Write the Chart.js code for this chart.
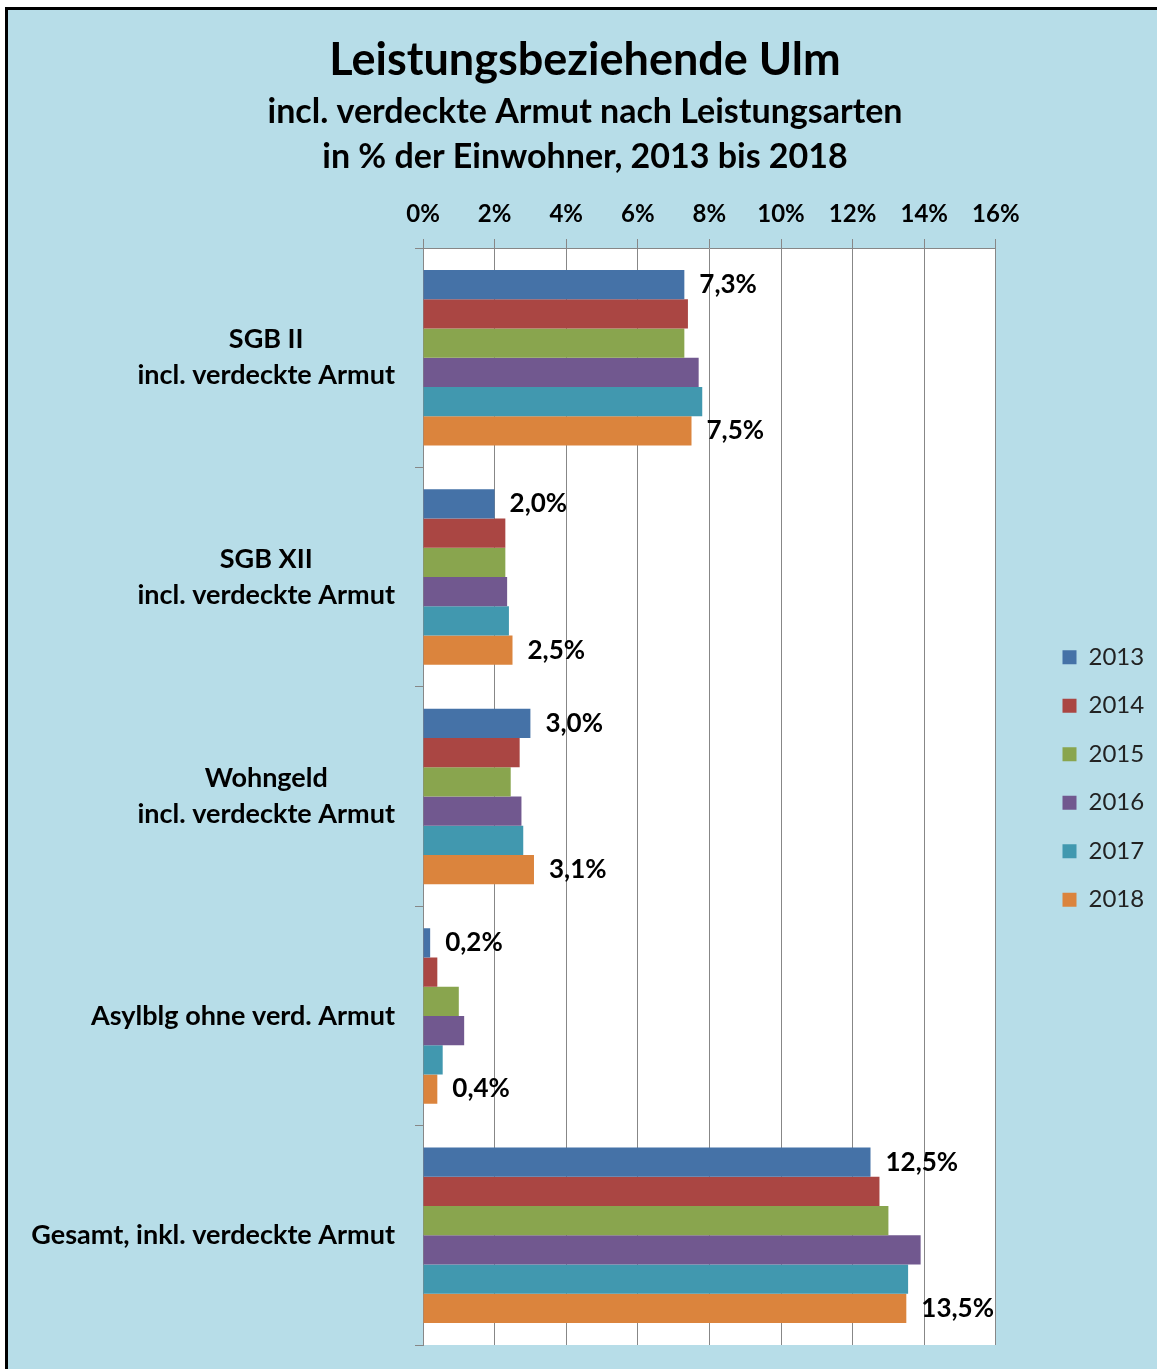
<!DOCTYPE html>
<html>
<head>
<meta charset="utf-8">
<title>Leistungsbeziehende Ulm</title>
<script src="https://cdn.jsdelivr.net/npm/chart.js@4.4.1/dist/chart.umd.min.js"></script>
<style>
  html, body { margin: 0; padding: 0; background: #fff; }
  canvas { display: block; }
</style>
</head>
<body>
<canvas id="leistungChart" width="1157" height="1369"></canvas>
<script>
// categories (multi-line labels)
const categories = [
    ['SGB II', 'incl. verdeckte Armut'],
    ['SGB XII', 'incl. verdeckte Armut'],
    ['Wohngeld', 'incl. verdeckte Armut'],
    ['Asylblg ohne verd. Armut'],
    ['Gesamt, inkl. verdeckte Armut']
];
const years = ['2013', '2014', '2015', '2016', '2017', '2018'];

// % der Einwohner
const values2013 = [7.3, 2.0, 3.0, 0.2, 12.5];
const values2014 = [7.4, 2.3, 2.7, 0.4, 12.75];
const values2015 = [7.3, 2.3, 2.45, 1.0, 13.0];
const values2016 = [7.7, 2.35, 2.75, 1.15, 13.9];
const values2017 = [7.8, 2.4, 2.8, 0.55, 13.55];
const values2018 = [7.5, 2.5, 3.1, 0.4, 13.5];

const tickLabels = ['0%', '2%', '4%', '6%', '8%', '10%', '12%', '14%', '16%'];

const barColors = ['#4572a7', '#aa4643', '#89a54e', '#71588f', '#4198af', '#db843d'];
const labelledSeries = [0, 5];   // only 2013 and 2018 carry value labels

const FONT = 'Lato';
Chart.defaults.font.family = FONT;

// background, border and white plot area
const backgroundPlugin = {
    id: 'background',
    beforeDraw(chart) {
        const c = chart.ctx;
        const a = chart.chartArea;
        c.save();
        c.fillStyle = '#ffffff';
        c.fillRect(0, 0, chart.width, chart.height);
        c.fillStyle = '#b7dde8';
        c.fillRect(6, 8, chart.width - 6, chart.height - 8);
        c.strokeStyle = '#000';
        c.lineWidth = 3;
        c.beginPath();
        c.moveTo(6.5, chart.height);
        c.lineTo(6.5, 8.5);
        c.lineTo(chart.width, 8.5);
        c.stroke();
        c.fillStyle = '#ffffff';
        c.fillRect(a.left, a.top, a.right - a.left, a.bottom - a.top);
        c.restore();
    }
};

// move the legend next to the plot like the original
const legendPlacePlugin = {
    id: 'legendPlace',
    afterLayout(chart) {
        const lg = chart.legend;
        const dx = 1038 - lg.left;
        lg.left += dx;
        lg.right += dx;
        lg.top -= 18;
        lg.bottom -= 18;
    }
};

// value labels + category labels
const textPlugin = {
    id: 'texts',
    afterDatasetsDraw(chart) {
        const c = chart.ctx;
        c.save();
        c.fillStyle = '#000';
        c.textBaseline = 'middle';

        c.font = 'bold 26px ' + FONT;
        c.textAlign = 'left';
        labelledSeries.forEach(di => {
            chart.getDatasetMeta(di).data.forEach((bar, i) => {
                const v = chart.data.datasets[di].data[i];
                c.fillText(v.toFixed(1).replace('.', ',') + '%', bar.x + 15, bar.y);
            });
        });

        const yScale = chart.scales.y;
        c.font = 'bold 27px ' + FONT;
        c.textAlign = 'center';
        categories.forEach((lines, i) => {
            const w = Math.max(...lines.map(l => c.measureText(l).width));
            const cx = chart.chartArea.left - 28 - w / 2;
            const cy = yScale.getPixelForValue(i);
            lines.forEach((l, k) => {
                c.fillText(l, cx, cy + (k - (lines.length - 1) / 2) * 36);
            });
        });
        c.restore();
    }
};

const seriesValues = [values2013, values2014, values2015, values2016, values2017, values2018];

const ctx = document.getElementById('leistungChart').getContext('2d');
const leistungChart = new Chart(ctx, {
    type: 'bar',
    data: {
        labels: categories,
        datasets: years.map((y, i) => ({
            label: y,
            data: seriesValues[i],
            backgroundColor: barColors[i],
            borderWidth: 0,
            categoryPercentage: 0.8,
            barPercentage: 1.0
        }))
    },
    options: {
        indexAxis: 'y',
        responsive: false,
        animation: false,
        devicePixelRatio: 1,
        layout: {
            padding: { left: 58, right: 45, top: 0, bottom: 24 }
        },
        scales: {
            x: {
                position: 'top',
                min: 0,
                max: 16,
                ticks: {
                    stepSize: 2,
                    color: '#000',
                    padding: 10,
                    font: { size: 24, weight: 'bold' },
                    callback: (v, i) => tickLabels[i]
                },
                grid: { color: '#878787', tickLength: 9 },
                border: { color: '#878787' },
                afterFit(scale) { scale.height = 68; }
            },
            y: {
                ticks: { display: false },
                grid: { drawOnChartArea: false, tickLength: 8, color: '#878787' },
                border: { color: '#878787' },
                afterFit(scale) { scale.width = 365; }
            }
        },
        plugins: {
            title: {
                display: true,
                text: 'Leistungsbeziehende Ulm',
                color: '#000',
                font: { size: 45, weight: 'bold', lineHeight: 1.2 },
                padding: { top: 33, bottom: 0 }
            },
            subtitle: {
                display: true,
                text: ['incl. verdeckte Armut nach Leistungsarten', 'in % der Einwohner, 2013 bis 2018'],
                color: '#000',
                font: { size: 34, weight: 'bold', lineHeight: 45 / 34 },
                padding: { top: 3, bottom: 0 }
            },
            legend: {
                display: true,
                position: 'right',
                fullSize: false,
                labels: {
                    boxWidth: 14,
                    boxHeight: 14,
                    padding: 24.5,
                    color: '#222',
                    font: { size: 24 }
                }
            },
            tooltip: { enabled: false }
        }
    },
    plugins: [backgroundPlugin, legendPlacePlugin, textPlugin]
});
</script>
</body>
</html>
